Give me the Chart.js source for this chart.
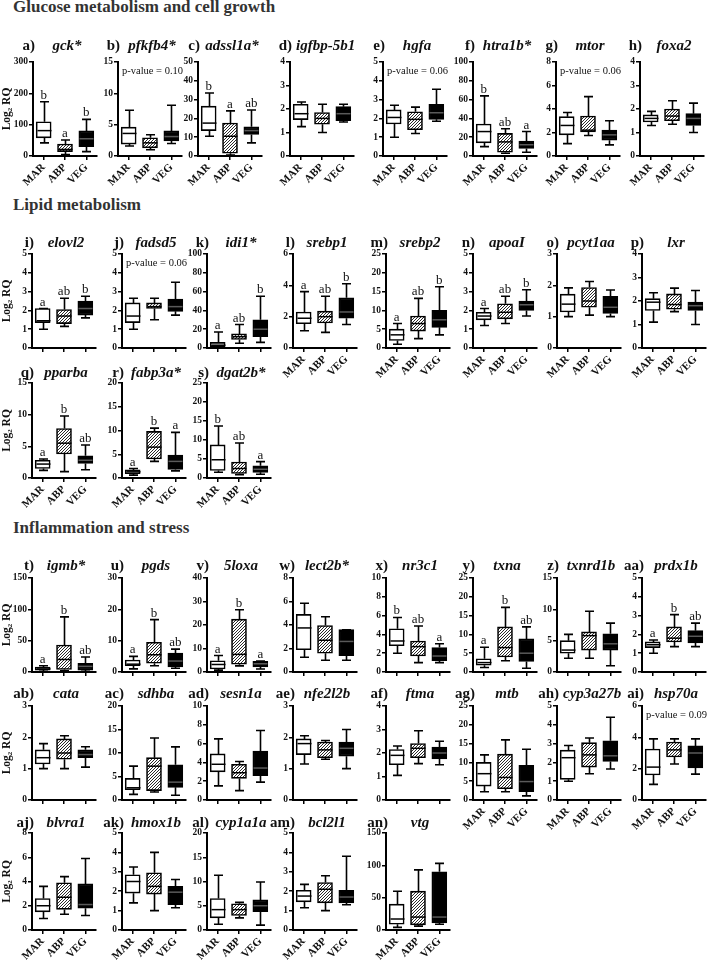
<!DOCTYPE html>
<html><head><meta charset="utf-8">
<script src="https://cdn.jsdelivr.net/npm/chart.js@4"></script>
<style>
html,body{margin:0;padding:0;background:#fff}
body{width:708px;height:961px;position:relative;overflow:hidden;font-family:"Liberation Serif","Times New Roman",serif;color:#111}
canvas{position:absolute}
.sec{position:absolute;left:13px;font-weight:bold;font-size:17px;line-height:20px;color:#333;white-space:nowrap}
.lab{position:absolute;font-weight:bold;font-size:15px;line-height:18px;white-space:nowrap;color:#111}
.gene{position:absolute;font-weight:bold;font-style:italic;font-size:15px;line-height:18px;white-space:nowrap;color:#111}
</style></head><body>
<script>
// ---------------- DATA ----------------
const groups = ['MAR', 'ABP', 'VEG'];
const sections = ['Glucose metabolism and cell growth', 'Lipid metabolism', 'Inflammation and stress'];
const panelTags = ['a','b','c','d','e','f','g','h','i','j','k','l','m','n','o','p','q','r','s','t','u','v','w','x','y','z','aa','ab','ac','ad','ae','af','ag','ah','ai','aj','ak','al','am','an'];
const genes = ['gck*','pfkfb4*','adssl1a*','igfbp-5b1','hgfa','htra1b*','mtor','foxa2',
  'elovl2','fadsd5','idi1*','srebp1','srebp2','apoaI','pcyt1aa','lxr',
  'pparba','fabp3a*','dgat2b*',
  'igmb*','pgds','5loxa','lect2b*','nr3c1','txna','txnrd1b','prdx1b',
  'cata','sdhba','sesn1a','nfe2l2b','ftma','mtb','cyp3a27b','hsp70a',
  'blvra1','hmox1b','cyp1a1a','bcl2l1','vtg'];
const yMax  = [300,15,50,4,5,100,8,4, 5,5,100,6,25,5,3,4, 15,20,25, 150,30,40,8,10,25,15,5, 3,20,10,3,4,25,5,6, 8,5,20,5,150];
const yStep = [100,5,10,1,1,20,2,1, 1,1,20,2,5,1,1,1, 5,5,5, 50,10,10,2,2,5,5,1, 1,5,2,1,1,5,1,2, 2,1,5,1,50];

// whisker minimum, first quartile, median, third quartile, whisker maximum  [MAR, ABP, VEG]
const whiskerLow = [
 [42,5,14],[1.6,1.0,2.0],[10.5,0.5,7],[1.25,1.0,1.45],[1.0,1.2,1.85],[10,3,4],[1.05,1.75,0.95],[1.3,1.35,1.0],
 [1.0,1.15,1.6],[1.0,1.5,1.75],[0.5,5,6],[1.1,1.0,1.5],[1,2.5,3.5],[1.2,1.3,1.7],[1.0,1.05,1.0],[1.1,1.55,1.0],
 [1.2,1.0,1.3],[0.6,3.5,1.5],[1.5,0.9,1.0],
 [1,2,1],[1,2,1.2],[0.8,2.6,1.3],[1.25,1.0,1.0],[2.0,1.0,1.0],[1.2,3,1.0],[2.2,2.2,1.0],[1.0,1.35,1.35],
 [1.0,1.0,1.05],[1.2,1.7,1.0],[1.5,1.0,1.9],[1.15,1.3,1.0],[1.05,1.55,1.5],[2.2,2.2,1.1],[1.0,1.4,1.65],[1.0,2.3,1.65],
 [0.95,1.3,1.2],[1.4,1.0,1.15],[1.2,2.5,1.0],[1.15,1.0,1.3],[4,6,9]];
const boxLow = [
 [58,14,30],[1.9,1.3,2.4],[13.5,1.5,11.5],[1.55,1.35,1.5],[1.7,1.4,1.95],[14,4,8],[1.8,2.05,1.35],[1.45,1.5,1.3],
 [1.35,1.3,1.75],[1.35,2.1,1.95],[1.5,9,12],[1.55,1.6,1.9],[2,4.5,5.5],[1.5,1.55,2.0],[1.15,1.3,1.1],[1.6,1.65,1.6],
 [1.5,3.8,2.3],[0.9,4,1.8],[2,1.2,1.5],
 [3,4,3],[2,2.8,1.6],[1.3,3.3,2.2],[1.9,1.6,1.4],[2.8,1.7,1.2],[1.8,4,2.8],[3,3.5,3.5],[1.3,1.6,1.55],
 [1.15,1.3,1.35],[2.2,2,2.7],[3.0,2.3,2.6],[1.45,1.35,1.4],[1.5,1.8,1.75],[3.7,3,2.2],[1.1,1.75,2.05],[1.6,2.75,2.05],
 [1.5,1.7,1.8],[1.9,1.85,1.3],[2.5,3.0,3.8],[1.45,1.4,1.4],[9,8,11]];
const medians = [
 [81,21,55],[3.6,2.1,3.1],[17.5,10.5,13.5],[1.8,1.6,1.8],[2.05,1.95,2.3],[26,15,12],[2.6,2.2,1.8],[1.6,1.7,1.6],
 [1.45,1.7,2.1],[1.7,2.2,2.2],[3,12,20],[1.9,2.0,2.3],[3.5,6.5,7.5],[1.7,1.9,2.3],[1.4,1.5,1.3],[1.95,1.85,1.8],
 [2.2,5.5,2.8],[1.3,6.5,3.5],[4.8,2.5,2.3],
 [5,20,9],[2.5,5.5,3.5],[3.2,7.5,3.5],[3.75,2.7,2.6],[3.3,2.7,1.7],[2.5,6.5,5],[3.5,5.8,4.5],[1.45,1.8,1.9],
 [1.35,1.5,1.45],[2.6,7.2,3.8],[3.8,2.9,3.4],[1.8,1.6,1.65],[1.9,2.2,2.0],[7,6,4.9],[2.25,2.4,2.35],[2.1,3.2,3.0],
 [2.0,2.7,2.1],[2.5,2.25,1.95],[4.2,4.2,5.0],[1.75,2.1,1.7],[17,20,20]];
const boxHigh = [
 [109,38,80],[4.6,2.9,4.0],[26.5,17.5,15.5],[2.2,1.85,2.1],[2.45,2.35,2.75],[34,24,16],[3.35,3.4,2.2],[1.75,2.0,1.8],
 [2.1,2.05,2.5],[2.4,2.4,2.6],[6,15,30],[2.3,2.35,3.2],[5,8.5,10],[1.9,2.35,2.5],[1.72,1.93,1.65],[2.1,2.3,1.95],
 [2.8,7.8,3.5],[1.7,9.8,4.8],[8.7,4.2,3.2],
 [8,43,14],[3.8,9.5,6],[4.8,22.5,4.5],[4.9,3.95,3.6],[4.6,3.3,2.6],[3.5,12,8.8],[5,6.4,6.1],[1.6,2.4,2.2],
 [1.6,1.95,1.6],[4.6,9,7.5],[4.9,3.8,5.2],[1.95,1.85,1.85],[2.15,2.4,2.25],[10,12.2,9.2],[2.65,3.05,3.15],[3.25,3.7,3.45],
 [2.6,3.9,3.8],[2.85,2.95,2.25],[6.5,5.4,6.2],[2.05,2.45,2.05],[40,60,90]];
const whiskerHigh = [
 [173,51,117],[7.3,3.4,8.1],[33.5,24,24.5],[2.3,2.2,2.2],[2.7,2.6,3.55],[64,29,26],[3.7,5.05,3.0],[1.9,2.35,2.25],
 [2.1,2.65,2.75],[2.65,2.65,3.5],[17,25,55],[3.6,3.3,4.1],[6.5,13.2,16.3],[2.1,2.75,3.1],[1.92,2.12,1.85],[2.35,2.55,2.45],
 [3.0,9.8,5.2],[2,10.5,9.6],[13.7,9.2,4.3],
 [10,88,24],[5,16.7,7.3],[7,26.5,4.7],[5.85,4.7,3.6],[5.8,4.9,3.0],[6.6,17.2,12],[6,9.7,7.8],[1.7,3.05,2.6],
 [1.8,2.05,1.7],[7.2,13.2,11.3],[6.5,4.1,7.4],[2.05,1.9,2.25],[2.3,2.95,2.5],[12,16,13.5],[2.9,3.3,4.4],[3.9,3.9,3.9],
 [3.6,4.4,5.9],[3.25,4.0,2.6],[11.3,5.7,9.9],[2.35,2.8,3.8],[60,93,103]];

const sigLetters = {
 a:['b','a','b'], c:['b','a','ab'], f:['b','ab','a'],
 i:['a','ab','b'], k:['a','ab','b'], l:['a','ab','b'], m:['a','ab','b'], n:['a','ab','b'],
 q:['a','b','ab'], r:['a','b','a'], s:['b','ab','a'],
 t:['a','b','ab'], u:['a','b','ab'], v:['a','b','a'], x:['b','ab','a'], y:['a','b','ab'], aa:['a','b','ab']
};
const pValues = { b:'0.10', e:'0.06', g:'0.06', j:'0.06', ai:'0.09' };
const rowSizes = [8, 8, 3, 8, 8, 5];

// ---------------- LAYOUT ----------------
const FONT = '"Liberation Serif","Times New Roman",serif';
const colXRow0 = [33, 118, 198, 290, 383, 473, 556, 640];
const colX = [32, 122, 207, 293, 386, 473, 557, 642];
const rowTop = [62, 254, 383, 578, 706, 833];
const rowZero = [156, 348, 478, 672, 800, 930];
const labelY = [45, 242, 372, 565, 693, 822];
const sectionY = [[0, 7], [1, 205], [2, 528]];

function makeHatch() {
  const c = document.createElement('canvas');
  c.width = 3; c.height = 3;
  const g = c.getContext('2d');
  g.fillStyle = '#fff'; g.fillRect(0, 0, 3, 3);
  g.strokeStyle = '#2a2a2a'; g.lineWidth = 1;
  g.beginPath();
  g.moveTo(-1, 4); g.lineTo(4, -1);
  g.moveTo(-1, 1); g.lineTo(1, -1);
  g.moveTo(2, 4); g.lineTo(4, 2);
  g.stroke();
  return g.createPattern(c, 'repeat');
}
const hatch = makeHatch();

const boxPlugin = {
  id: 'boxes',
  beforeDatasetsDraw(chart, args, opts) {
    const i = opts.idx, ctx = chart.ctx, ys = chart.scales.y;
    const meta = chart.getDatasetMeta(0);
    ctx.save();
    ctx.strokeStyle = '#000'; ctx.lineWidth = 1.6;
    meta.data.forEach((el, k) => {
      const x = Math.round(el.x) + 0.5;
      const pMax = ys.getPixelForValue(whiskerHigh[i][k]);
      const pQ3 = ys.getPixelForValue(boxHigh[i][k]);
      const pQ1 = ys.getPixelForValue(boxLow[i][k]);
      const pMin = ys.getPixelForValue(whiskerLow[i][k]);
      ctx.beginPath();
      ctx.moveTo(x, pQ3); ctx.lineTo(x, pMax);
      ctx.moveTo(x - 4.5, pMax); ctx.lineTo(x + 4.5, pMax);
      ctx.moveTo(x, pQ1); ctx.lineTo(x, pMin);
      ctx.moveTo(x - 4.5, pMin); ctx.lineTo(x + 4.5, pMin);
      ctx.stroke();
    });
    ctx.restore();
  },
  afterDatasetsDraw(chart, args, opts) {
    const i = opts.idx, ctx = chart.ctx, ys = chart.scales.y;
    const meta = chart.getDatasetMeta(0);
    const tag = panelTags[i];
    ctx.save();
    meta.data.forEach((el, k) => {
      const x = Math.round(el.x) + 0.5;
      const pMed = ys.getPixelForValue(medians[i][k]);
      ctx.strokeStyle = k === 2 ? '#5a5a5a' : '#000';
      ctx.lineWidth = 1.5;
      ctx.beginPath();
      ctx.moveTo(x - 7, pMed); ctx.lineTo(x + 7, pMed);
      ctx.stroke();
    });
    const letters = sigLetters[tag];
    if (letters) {
      ctx.fillStyle = '#111';
      ctx.font = '13px ' + FONT;
      ctx.textAlign = 'center'; ctx.textBaseline = 'alphabetic';
      meta.data.forEach((el, k) => {
        ctx.fillText(letters[k], el.x, ys.getPixelForValue(whiskerHigh[i][k]) - 3);
      });
    }
    if (pValues[tag]) {
      ctx.fillStyle = '#111';
      ctx.font = '10.5px ' + FONT;
      ctx.textAlign = 'left'; ctx.textBaseline = 'middle';
      ctx.fillText('p-value = ' + pValues[tag], chart.chartArea.left + 4, chart.chartArea.top + 9);
    }
    ctx.restore();
  }
};

const measureCtx = document.createElement('canvas').getContext('2d');

function addDiv(cls, text, left, top) {
  const d = document.createElement('div');
  d.className = cls; d.textContent = text;
  d.style.left = left + 'px'; d.style.top = top + 'px';
  document.body.appendChild(d);
  return d;
}

sectionY.forEach(([s, y]) => addDiv('sec', sections[s], 13, y - 10));

let idx = 0;
rowSizes.forEach((n, row) => {
  for (let col = 0; col < n; col++, idx++) {
    const i = idx;
    const axisX = (row === 0 ? colXRow0 : colX)[col];
    const top = rowTop[row], zero = rowZero[row];
    const showX = row === 0 || row === 2 || row === 5 || (row === 1 && col >= 3) || (row === 4 && col >= 5);
    const yw = col === 0 ? axisX : 30;
    const padTop = 10, padRight = 8, plotW = 64;
    const xh = showX ? 40 : 8;
    const W = yw + plotW + padRight;
    const H = padTop + (zero - top) + xh;
    const cv = document.createElement('canvas');
    cv.width = W; cv.height = H;
    cv.style.width = W + 'px'; cv.style.height = H + 'px';
    cv.style.left = (axisX - yw) + 'px';
    cv.style.top = (top - padTop) + 'px';
    document.body.appendChild(cv);

    // panel label and gene name (real text)
    const ly = labelY[row] - 9;
    const lab = addDiv('lab', panelTags[i] + ')', 0, ly);
    measureCtx.font = 'bold 15px ' + FONT;
    const lw = measureCtx.measureText(panelTags[i] + ')').width;
    const labRight = axisX + 2;
    lab.style.left = (labRight - lw) + 'px';
    measureCtx.font = 'italic bold 15px ' + FONT;
    const gw = measureCtx.measureText(genes[i]).width;
    const gLeft = Math.max(axisX + 34 - gw / 2, labRight + 4);
    addDiv('gene', genes[i], gLeft, ly);

    new Chart(cv, {
      type: 'bar',
      data: {
        labels: groups,
        datasets: [{
          data: groups.map((g, k) => [boxLow[i][k], boxHigh[i][k]]),
          backgroundColor: ['#ffffff', hatch, '#000000'],
          borderColor: '#000', borderWidth: 1.6, borderSkipped: false,
          barThickness: 15
        }]
      },
      options: {
        responsive: false, animation: false, events: [],
        devicePixelRatio: 1,
        layout: { padding: { top: padTop, right: padRight, left: 0, bottom: 0 } },
        plugins: { legend: { display: false }, tooltip: { enabled: false }, boxes: { idx: i } },
        scales: {
          x: {
            type: 'category', offset: true,
            grid: { display: true, offset: false, drawOnChartArea: false, drawTicks: true, tickLength: 4, color: '#000', lineWidth: 1.5 },
            border: { display: true, color: '#000', width: 2 },
            ticks: { display: showX, autoSkip: false, maxRotation: 45, minRotation: 45, padding: 1,
                     font: { family: FONT, weight: 'bold', size: 11 }, color: '#111' },
            afterFit: s => { s.height = xh; }
          },
          y: {
            min: 0, max: yMax[i],
            ticks: { stepSize: yStep[i], padding: 1, font: { family: FONT, weight: 'bold', size: 9.5 }, color: '#111' },
            grid: { display: true, drawOnChartArea: false, drawTicks: true, tickLength: 4, color: '#000', lineWidth: 1.5 },
            border: { display: true, color: '#000', width: 2 },
            title: { display: col === 0, text: 'Log\u2082 RQ', padding: 0, color: '#111',
                     font: { family: FONT, weight: 'bold', size: 11.5 } },
            afterFit: s => { s.width = yw; }
          }
        }
      },
      plugins: [boxPlugin]
    });
  }
});
</script>
</body></html>
